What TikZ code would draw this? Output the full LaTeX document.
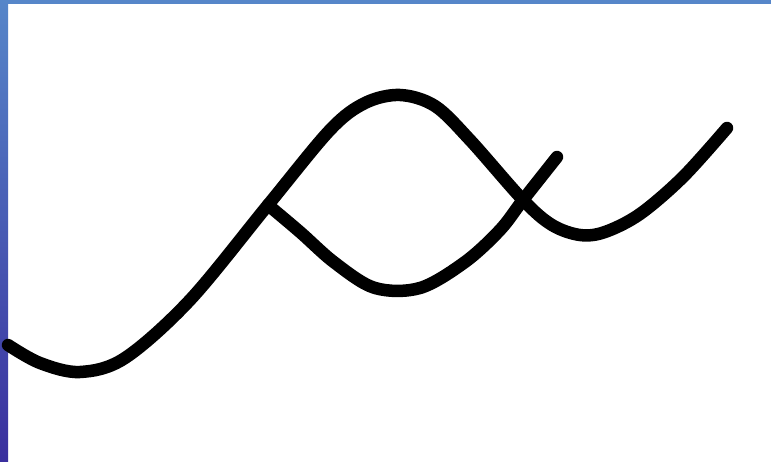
\documentclass[tikz,border=0pt]{standalone}
\usetikzlibrary{calc}
\definecolor{frametop}{HTML}{5686C9}
\definecolor{framebot}{HTML}{3A2F9E}
\tikzset{ink/.style={line width=12.5pt, line cap=round, line join=round, black}}
\begin{document}
\begin{tikzpicture}[x=1pt,y=-1pt]
\useasboundingbox (0,0) rectangle (771,462);
\fill[white] (0,0) rectangle (771,462);
% frame
\fill[frametop] (0,0) rectangle (771,4);
\shade[top color=frametop, bottom color=framebot] (0,0) rectangle (8,462);
% main wave
\draw[ink] plot[smooth, tension=0.55] coordinates {
  (8,345) (40,363) (80,372) (125,358) (190,300) (268,205) (330,130) (365,103) (400,95)
  (435,106) (470,140) (523,200) (552,225) (580,235) (605,232) (640,214) (683,177) (727,128)};
% lower branch
\draw[ink] plot[smooth, tension=0.55] coordinates {
  (268,205) (300,232) (335,263) (375,288) (420,288) (465,262) (500,230) (523,200) (557,157)};
\end{tikzpicture}
\end{document}
